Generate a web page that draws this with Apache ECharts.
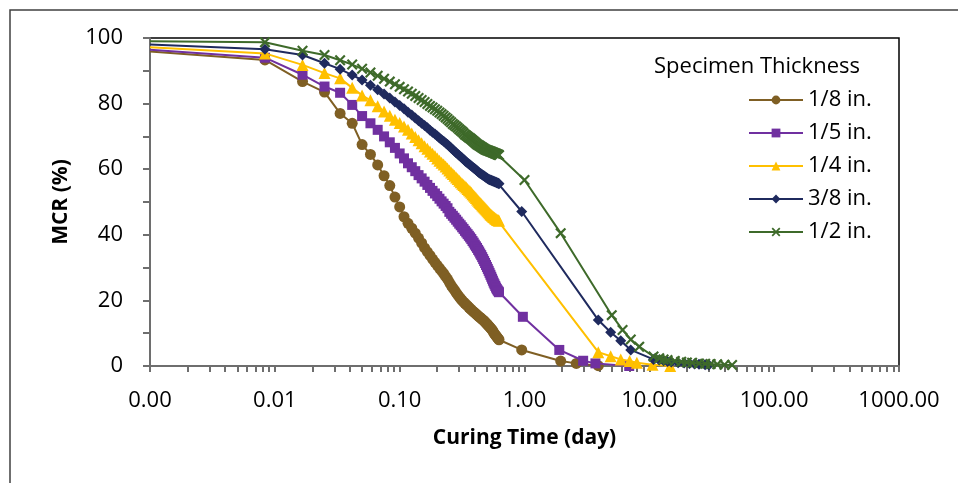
<!DOCTYPE html>
<html>
<head>
<meta charset="utf-8">
<script src="https://cdn.jsdelivr.net/npm/echarts@6/dist/echarts.min.js"></script>
<style>
  html, body { margin: 0; padding: 0; background: #fff; }
  #main { width: 958px; height: 483px; }
</style>
</head>
<body>
<div id="main"></div>
<script>
// readings every 12 minutes during the first 15 hours
var minutes = [12, 24, 36, 48, 60, 72, 84, 96, 108, 120,
    132, 144, 156, 168, 180, 192, 204, 216, 228, 240,
    252, 264, 276, 288, 300, 312, 324, 336, 348, 360,
    372, 384, 396, 408, 420, 432, 444, 456, 468, 480,
    492, 504, 516, 528, 540, 552, 564, 576, 588, 600,
    612, 624, 636, 648, 660, 672, 684, 696, 708, 720,
    732, 744, 756, 768, 780, 792, 804, 816, 828, 840,
    852, 864, 876, 888, 900];

var startDay = 0.001;
var names = ['1/8 in.', '1/5 in.', '1/4 in.', '3/8 in.', '1/2 in.'];
var colors = ['#7f5f24', '#7030a0', '#ffc000', '#1f2a5e', '#3e6a2a'];
var startMCR = [95.9, 96.4, 97.2, 98.0, 99.0];

var mcr18 = [93.3, 86.7, 83.5, 77.0, 74.0, 67.5, 64.5, 61.3, 58.0, 55.0,
    51.5, 48.5, 45.5, 43.5, 42.0, 40.5, 39.0, 37.5, 36.0, 34.8,
    33.7, 32.6, 31.6, 30.7, 29.8, 29.0, 28.2, 27.3, 26.5, 25.5,
    24.6, 23.8, 23.1, 22.4, 21.7, 21.1, 20.5, 20.0, 19.5, 19.1,
    18.7, 18.3, 17.9, 17.5, 17.2, 16.8, 16.5, 16.2, 15.9, 15.6,
    15.3, 15.0, 14.8, 14.5, 14.2, 14.0, 13.7, 13.4, 13.1, 12.8,
    12.5, 12.2, 11.9, 11.6, 11.3, 11.0, 10.6, 10.2, 9.8, 9.5,
    9.2, 8.9, 8.6, 8.3, 8.0];
var mcr15 = [94.0, 88.8, 85.2, 83.3, 79.6, 76.2, 74.0, 72.0, 70.0, 68.2,
    66.5, 64.8, 63.3, 61.8, 60.6, 59.4, 58.2, 57.2, 56.2, 55.2,
    54.3, 53.4, 52.6, 51.8, 51.0, 50.2, 49.5, 48.8, 48.1, 47.0,
    46.4, 45.8, 45.2, 44.6, 44.0, 43.4, 42.9, 42.3, 41.8, 41.2,
    40.7, 40.2, 39.7, 39.2, 38.7, 38.1, 37.6, 37.0, 36.5, 36.0,
    35.4, 34.9, 34.3, 33.8, 33.2, 32.6, 32.0, 31.4, 30.8, 30.2,
    29.6, 29.0, 28.4, 27.8, 27.2, 26.6, 26.0, 25.4, 24.9, 24.4,
    23.9, 23.5, 23.1, 22.8, 22.5];
var mcr14 = [95.3, 91.8, 89.3, 87.7, 84.8, 82.5, 81.0, 79.2, 77.6, 76.3,
    75.1, 74.1, 73.0, 72.0, 70.9, 69.8, 68.8, 67.9, 67.0, 66.2,
    65.4, 64.7, 64.0, 63.3, 62.6, 62.0, 61.4, 60.8, 60.2, 59.6,
    59.0, 58.5, 58.0, 57.5, 57.0, 56.5, 56.0, 55.6, 55.2, 54.8,
    54.4, 54.0, 53.6, 53.2, 52.8, 52.4, 52.0, 51.6, 51.2, 50.8,
    50.4, 50.0, 49.7, 49.4, 49.0, 48.7, 48.4, 48.1, 47.8, 47.5,
    47.2, 46.9, 46.6, 46.3, 46.0, 45.8, 45.6, 45.4, 45.2, 45.0,
    44.8, 44.6, 44.5, 44.4, 44.3];
var mcr38 = [96.6, 94.8, 92.3, 90.5, 88.7, 87.2, 85.6, 84.2, 82.9, 81.7,
    80.5, 79.4, 78.4, 77.4, 76.5, 75.6, 74.8, 74.0, 73.3, 72.6,
    71.9, 71.3, 70.7, 70.1, 69.5, 69.0, 68.5, 68.0, 67.5, 67.0,
    66.5, 66.0, 65.5, 65.0, 64.6, 64.2, 63.8, 63.4, 63.0, 62.6,
    62.2, 61.9, 61.6, 61.3, 61.0, 60.7, 60.4, 60.1, 59.8, 59.5,
    59.2, 58.9, 58.7, 58.5, 58.3, 58.1, 57.9, 57.7, 57.5, 57.3,
    57.1, 56.9, 56.8, 56.7, 56.6, 56.5, 56.4, 56.3, 56.2, 56.1,
    56.0, 55.9, 55.8, 55.7, 55.6];
var mcr12 = [98.7, 96.1, 94.8, 93.2, 91.9, 90.6, 89.5, 88.5, 87.6, 86.7,
    85.9, 85.1, 84.4, 83.7, 83.0, 82.3, 81.7, 81.1, 80.5, 79.9,
    79.3, 78.8, 78.3, 77.8, 77.3, 76.8, 76.3, 75.8, 75.3, 74.8,
    74.3, 73.8, 73.4, 73.0, 72.6, 72.2, 71.8, 71.4, 71.0, 70.6,
    70.3, 70.0, 69.7, 69.4, 69.1, 68.8, 68.5, 68.2, 67.9, 67.6,
    67.4, 67.2, 67.0, 66.8, 66.6, 66.4, 66.2, 66.0, 65.9, 65.8,
    65.7, 65.6, 65.5, 65.4, 65.3, 65.2, 65.1, 65.0, 64.9, 64.8,
    64.7, 64.6, 64.5, 64.4, 64.3];

// later, sparser readings (days)
var tailDays18 = [0.95, 1.95, 2.6, 3.9];
var tail18 = [4.9, 1.5, 0.8, 0.1];
var tailDays15 = [0.97, 1.9, 2.95, 3.7, 6.9];
var tail15 = [15.0, 4.9, 1.6, 0.8, 0.0];
var tailDays14 = [3.9, 4.9, 5.9, 6.95, 7.95, 10.6, 14.7];
var tail14 = [4.2, 3.0, 2.0, 1.5, 1.0, 0.4, 0.0];
var tailDays38 = [0.95, 3.9, 4.9, 5.9, 7.1, 10.8, 12, 13, 14, 15, 17, 19, 21, 23, 25, 28, 30];
var tail38 = [47.1, 14.0, 10.3, 7.7, 4.9, 2.0, 1.8, 1.6, 1.4, 1.2, 1.0, 0.9, 0.8, 0.6, 0.5, 0.4, 0.3];
var tailDays12 = [1.0, 1.95, 5.0, 6.1, 7.1, 8.3, 10.8, 12, 13, 14, 16, 18, 20, 22, 25, 28, 31, 35, 40, 46];
var tail12 = [56.7, 40.5, 15.5, 11.0, 8.1, 5.9, 2.9, 2.4, 2.0, 1.8, 1.5, 1.3, 1.1, 1.0, 0.8, 0.7, 0.6, 0.5, 0.4, 0.3];

var xTicks = [0.001, 0.01, 0.1, 1, 10, 100, 1000];

var xMark = 'path://M0,1.4L1.4,0L5,3.6L8.6,0L10,1.4L6.4,5L10,8.6L8.6,10L5,6.4L1.4,10L0,8.6L3.6,5Z';
var symbols = ['circle', 'rect', 'triangle', 'diamond', xMark];
var sizes = [11, 10, 12, 11, 11];

function build(i, dense, tailDays, tailVals) {
    var d = [{ value: [startDay, startMCR[i]], symbol: 'none' }];
    for (var k = 0; k < minutes.length; k++) d.push([minutes[k] / 1440, dense[k]]);
    for (var j = 0; j < tailDays.length; j++) d.push([tailDays[j], tailVals[j]]);
    return d;
}

var allData = [
    build(0, mcr18, tailDays18, tail18),
    build(1, mcr15, tailDays15, tail15),
    build(2, mcr14, tailDays14, tail14),
    build(3, mcr38, tailDays38, tail38),
    build(4, mcr12, tailDays12, tail12)
];

// minor tick positions 1..9 in each decade
var tickVals = [];
for (var e = 0; e < 6; e++) {
    for (var m = 1; m < 10; m++) tickVals.push(m * xTicks[e]);
}
tickVals.push(1000);

var font = 'Open Sans';
var chart = echarts.init(document.getElementById('main'));

var series = [];
for (var i = 0; i < 5; i++) {
    series.push({
        name: names[i],
        type: 'line',
        data: allData[i],
        symbol: symbols[i],
        symbolSize: sizes[i],
        showAllSymbol: true,
        lineStyle: { color: colors[i], width: 2 },
        itemStyle: { color: colors[i] },
        emphasis: { disabled: true },
        animation: false,
        z: 2 + i
    });
}

var option = {
    backgroundColor: '#fff',
    animation: false,
    title: {
        text: 'Specimen Thickness',
        left: 654,
        top: 56,
        padding: 0,
        textStyle: { fontFamily: font, fontSize: 22, fontWeight: 'normal', color: '#000' }
    },
    legend: {
        data: names,
        orient: 'vertical',
        left: 748,
        top: 89,
        padding: 0,
        itemWidth: 54,
        itemHeight: 11,
        itemGap: 11,
        textStyle: { fontFamily: font, fontSize: 22, color: '#000' }
    },
    grid: {
        left: 150, right: 59, top: 38, bottom: 117,
        show: true, borderColor: '#000', borderWidth: 1.5
    },
    xAxis: {
        type: 'log',
        min: 0.001,
        max: 1000,
        logBase: 10,
        name: 'Curing Time (day)',
        nameLocation: 'middle',
        nameGap: 62,
        nameTextStyle: { fontFamily: font, fontSize: 21, fontWeight: 'bold', color: '#000' },
        axisLine: { lineStyle: { color: '#6e6e6e', width: 2 } },
        axisTick: { inside: false, length: 6, customValues: tickVals, lineStyle: { color: '#6e6e6e', width: 2 } },
        axisLabel: {
            customValues: xTicks,
            margin: 24,
            fontFamily: font, fontSize: 22, color: '#000',
            formatter: function (v) { return Number(v).toFixed(2); }
        },
        splitLine: { show: false },
        minorTick: { show: false }
    },
    yAxis: {
        type: 'value',
        min: 0,
        max: 100,
        interval: 10,
        name: 'MCR (%)',
        nameLocation: 'middle',
        nameGap: 78,
        nameTextStyle: { fontFamily: font, fontSize: 21, fontWeight: 'bold', color: '#000' },
        axisLine: { show: true, lineStyle: { color: '#6e6e6e', width: 2 } },
        axisTick: { show: true, length: 7, lineStyle: { color: '#6e6e6e', width: 2 } },
        axisLabel: {
            margin: 27,
            fontFamily: font, fontSize: 22, color: '#000',
            formatter: function (v) { return v % 20 === 0 ? String(v) : ''; }
        },
        splitLine: { show: false }
    },
    graphic: [{
        type: 'rect',
        shape: { x: 10, y: 10, width: 960, height: 490 },
        style: { fill: 'none', stroke: '#404040', lineWidth: 1.5 },
        silent: true
    }],
    series: series
};

chart.setOption(option);
</script>
</body>
</html>
